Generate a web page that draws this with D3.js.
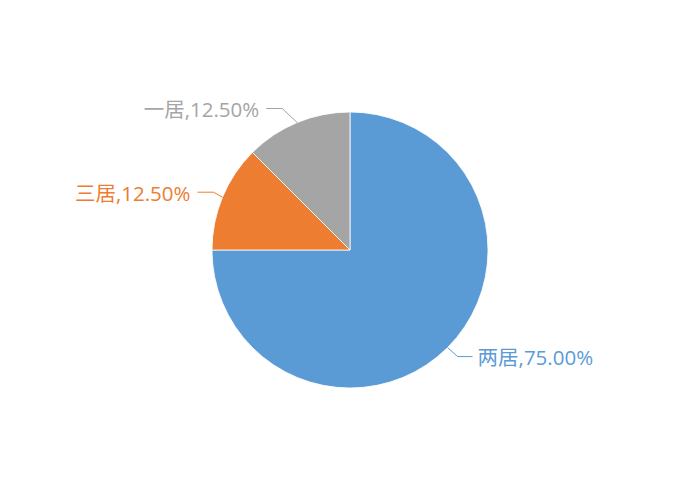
<!DOCTYPE html>
<html>
<head>
<meta charset="utf-8">
<script src="https://cdn.jsdelivr.net/npm/d3@7"></script>
<style>
  body { margin: 0; background: #fff; }
  text { font-family: "Open Sans", "Noto Sans CJK SC", sans-serif; }
</style>
</head>
<body>
<div id="chart"></div>
<script>
// data
var categories = ["两居", "三居", "一居"];
var values = [75, 12.5, 12.5];
var colors = ["#5b9bd5", "#ed7d31", "#a5a5a5"];

var width = 700, height = 500,
    cx = 350, cy = 250, radius = 138;

// leader elbow offsets from the slice edge (layout only)
var elbows = [[10, 9], [-9, -5], [-15, -14]];

var svg = d3.select("#chart")
  .append("svg")
    .attr("width", width)
    .attr("height", height);

var g = svg.append("g")
  .attr("transform", "translate(" + cx + "," + cy + ")");

var data = categories.map((c, i) => { return {name: c, value: values[i], color: colors[i]} });
var total = d3.sum(values);

var pie = d3.pie()
  .value(d => d.value)
  .sort(null);

var arc = d3.arc().innerRadius(0).outerRadius(radius);
var arcs = pie(data);

g.selectAll("path.slice")
  .data(arcs)
  .enter().append("path")
    .attr("class", "slice")
    .attr("d", arc)
    .attr("fill", d => d.data.color)
    .attr("stroke", "#fff")
    .attr("stroke-width", 0.8);

// leader lines + labels
arcs.forEach((d, i) => {
  var mid = (d.startAngle + d.endAngle) / 2;
  var sx = Math.sin(mid), sy = -Math.cos(mid);
  var p0 = [sx * radius, sy * radius];
  var p1 = [p0[0] + elbows[i][0], p0[1] + elbows[i][1]];
  var right = sx > 0;
  var p2 = [p1[0] + (right ? 15 : -16), p1[1]];

  g.append("polyline")
    .attr("points", [p0, p1, p2].map(p => p.join(",")).join(" "))
    .attr("fill", "none")
    .attr("stroke", d.data.color)
    .attr("stroke-width", 1);

  g.append("text")
    .attr("x", p2[0] + (right ? 5 : -7))
    .attr("y", p2[1])
    .attr("dy", "0.42em")
    .attr("text-anchor", right ? "start" : "end")
    .attr("fill", d.data.color)
    .style("font-size", "20.5px")
    .text(d.data.name + "," + (d.data.value / total * 100).toFixed(2) + "%");
});
</script>
</body>
</html>
